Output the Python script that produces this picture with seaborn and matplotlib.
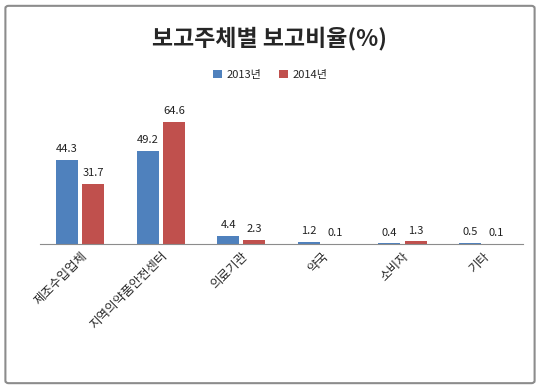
import matplotlib
matplotlib.use("Agg")
import matplotlib.pyplot as plt
from matplotlib.patches import FancyBboxPatch
import pandas as pd
import seaborn as sns

categories = ["제조수입업체", "지역의약품안전센터", "의료기관", "약국", "소비자", "기타"]
years = ["2013년", "2014년"]
values_2013 = [44.3, 49.2, 4.4, 1.2, 0.4, 0.5]
values_2014 = [31.7, 64.6, 2.3, 0.1, 1.3, 0.1]

df = pd.DataFrame({
    "category": categories * 2,
    "year": [years[0]] * len(categories) + [years[1]] * len(categories),
    "value": values_2013 + values_2014,
})

sns.set_style("white")
plt.rcParams["font.family"] = ["Noto Sans CJK KR", "DejaVu Sans"]

fig = plt.figure(figsize=(5.4, 3.89), dpi=100)
ax = fig.add_axes([0.074, 0.373, 0.895, 0.365])

sns.barplot(data=df, x="category", y="value", hue="year",
            palette=["#4F81BD", "#C0504D"], width=0.65, gap=0.16,
            saturation=1, linewidth=0, ax=ax, legend=True)

for c in ax.containers:
    ax.bar_label(c, fmt="%.1f", padding=4, fontsize=8, color="#222222")

ax.set_ylim(0, 75)
ax.set_xlabel("")
ax.set_ylabel("")
ax.set_yticks([])
for s in ["top", "right", "left"]:
    ax.spines[s].set_visible(False)
ax.spines["bottom"].set_color("#8c8c8c")
ax.tick_params(axis="x", length=0, pad=4)
plt.setp(ax.get_xticklabels(), rotation=45, ha="right", rotation_mode="anchor", fontsize=9)

ax.legend(loc="center", ncol=2, frameon=False, fontsize=8, handlelength=0.8, handleheight=0.8,
          columnspacing=1.6, handletextpad=0.4)
leg = ax.get_legend()
leg.set_bbox_to_anchor((0.5, 1 - 75 / 389), transform=fig.transFigure)

fig.text(0.5, 1 - 38 / 389, "보고주체별 보고비율(%)", ha="center", va="center",
         fontsize=16.5, fontweight="bold")

border = FancyBboxPatch((0.010, 0.015), 0.980, 0.97, boxstyle="round,pad=0,rounding_size=0.006",
                        transform=fig.transFigure, fill=False, edgecolor="#8c8c8c", linewidth=1.5)
fig.patches.append(border)

fig.savefig("out.png", dpi=100)
